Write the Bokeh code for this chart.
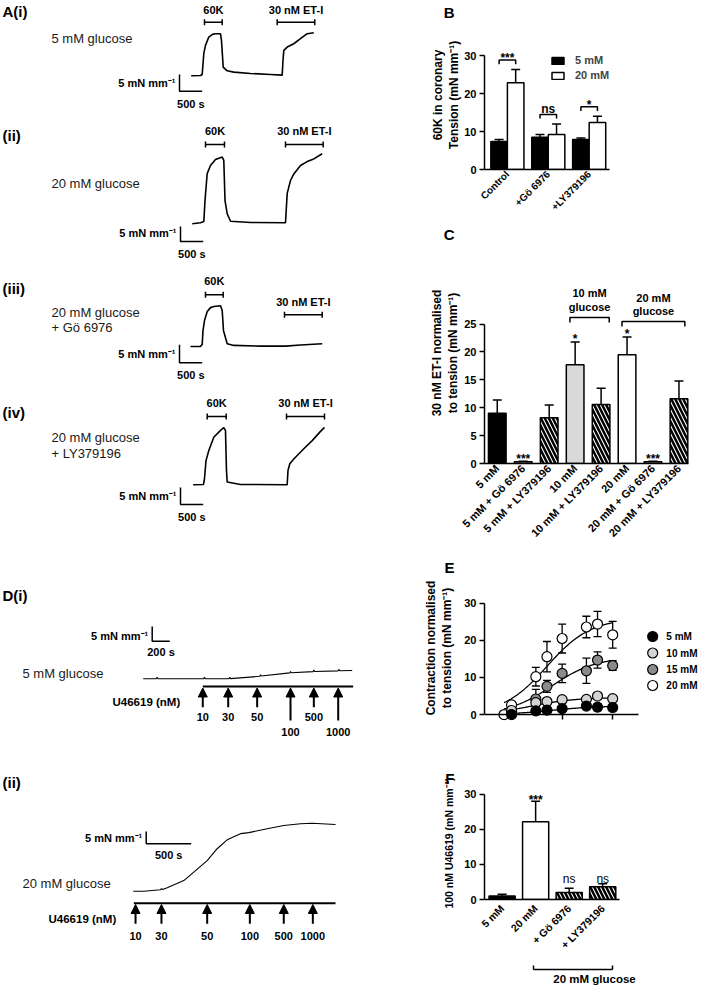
import numpy as np
from bokeh.plotting import figure
from bokeh.layouts import row, column
from bokeh.models import (Range1d, ColumnDataSource, Whisker, TeeHead, Legend, Title,
                          LegendItem, FixedTicker, LinearAxis, Arrow, NormalHead)
from bokeh.core.properties import value
from bokeh.embed import file_html
from bokeh.resources import INLINE

FONT = "Liberation Sans"
LW, RW = 420, 289
RX0 = 420  # left edge of right column (px)

# ======================= DATA =======================
# A: tension traces (time in s, tension in mN mm^-1)
a1_time = [0, 205, 242, 278, 315, 388, 469, 535, 645, 667, 705, 793, 938, 1306, 1747, 2004, 2022,
           2040, 2115, 2260, 2407, 2555, 2700]
a1_tension = [0, 0.1, 0.4, 6.7, 9.1, 11.6, 12.4, 12.6, 12.6, 10.6, 2.6, 1.5, 1.1, 0.7, 0.4, 0.2, 4.6,
              7.6, 8.6, 9.6, 11.1, 12.6, 12.9]
a1_k60 = [293, 683]
a1_et1 = [1894, 2722]

a2_time = [0, 183, 256, 282, 330, 403, 513, 661, 696, 723, 771, 844, 1284, 2055, 2077, 2093, 2165,
           2238, 2385, 2533, 2678, 2863]
a2_tension = [-0.3, 0, 0.4, 7.4, 16.4, 19.1, 21.1, 21.9, 20.8, 7.4, 3.0, 0.5, 0.1, 0, 5.8, 9.8, 14.1,
              16.3, 19.1, 20.4, 21.3, 23.0]
a2_k60 = [293, 711]
a2_et1 = [2055, 2885]

a3_time = [0, 220, 258, 275, 308, 368, 441, 513, 661, 698, 727, 808, 954, 1542, 2093, 2423, 2901]
a3_tension = [0, 0, 0.6, 4.4, 7.2, 9.7, 10.8, 11.1, 11.3, 10.0, 4.4, 0.75, 0.3, 0.1, 0.1, 0.4, 0.75]
a3_k60 = [330, 720]
a3_et1 = [2070, 2901]

a4_time = [0, 227, 249, 282, 344, 454, 601, 674, 711, 733, 749, 1042, 2070, 2088, 2128, 2216, 2436,
           2621, 2789, 2892]
a4_tension = [0, 0.1, 1.9, 7.1, 10.1, 14.0, 16.0, 16.8, 16.0, 4.2, 0.8, 0.1, 0, 4.2, 6.2, 7.6, 10.6,
              13.0, 15.5, 16.9]
a4_k60 = [308, 727]
a4_et1 = [2055, 2892]

a_scale_s, a_scale_mN = 500, 5

# D: U46619 cumulative additions
d_dose_nM = [10, 30, 50, 100, 500, 1000]
d1_time = [0, 150, 159, 168, 688, 697, 706, 975, 984, 993, 1324, 1333, 1342, 1665, 1674, 1683, 1930,
           1939, 1948, 2214, 2223, 2232, 2375]
d1_tension = [0, 0, 0.5, 0, 0, 0.5, 0, 0, 0.5, 0.05, 0.85, 1.4, 0.95, 2.0, 2.5, 2.05, 2.45, 2.95, 2.5,
              2.7, 3.2, 2.72, 2.82]
d1_dose_time = [677, 966, 1295, 1674, 1939, 2216]
d1_drug_span = [677, 2386]
d1_scale_s, d1_scale_mN = 200, 5

d2_time = [0, 118, 303, 314, 325, 378, 562, 673, 822, 933, 1044, 1192, 1284, 1489, 1673, 1859, 1989, 2248]
d2_tension = [0, 0, 0.6, 1.0, 0.7, 1.4, 4.3, 7.7, 12.4, 17.2, 20.8, 23.3, 23.7, 25.3, 26.6, 27.3, 27.5, 27.0]
d2_dose_time = [26, 314, 822, 1296, 1673, 1996]
d2_drug_span = [7, 2248]
d2_scale_s, d2_scale_mN = 500, 5

# B: 60K contraction
b_groups = ["Control", "+Gö 6976", "+LY379196"]
b_5mM = [7.4, 8.5, 7.9]
b_5mM_sem = [0.5, 0.7, 0.4]
b_20mM = [22.8, 9.2, 12.4]
b_20mM_sem = [3.5, 2.8, 1.6]
b_sig = ["***", "ns", "*"]

# C: 30 nM ET-1
c_groups = ["5 mM", "5 mM + Gö 6976", "5 mM + LY379196", "10 mM", "10 mM + LY379196",
            "20 mM", "20 mM + Gö 6976", "20 mM + LY379196"]
c_vals = [9.0, 0.3, 8.2, 17.7, 10.6, 19.5, 0.3, 11.6]
c_sem = [2.4, 0.1, 2.3, 4.1, 2.9, 3.2, 0.1, 3.2]
c_sig = ["", "***", "", "*", "", "*", "***", ""]

# E: U46619 concentration-response (log M)
e_logconc = [-8, -7.52, -7.3, -7, -6.52, -6.3, -6]
e_5mM = [0.0, 1.0, 1.2, 1.6, 2.3, 2.0, 1.9]
e_5mM_sem = [0.3, 0.4, 0.5, 0.6, 0.7, 0.9, 0.8]
e_10mM = [1.1, 3.2, 3.5, 4.0, 4.1, 5.0, 4.3]
e_10mM_sem = [0.4, 1.0, 0.8, 0.7, 0.6, 0.8, 0.6]
e_15mM = [0.8, 4.2, 7.6, 11.1, 11.8, 14.7, 13.2]
e_15mM_sem = [0.5, 2.6, 1.6, 2.5, 3.4, 2.2, 1.3]
e_20mM_logconc = [-8.15, -8, -7.52, -7.3, -7, -6.52, -6.3, -6]
e_20mM = [0.0, 2.6, 10.2, 15.6, 20.5, 23.6, 24.4, 21.5]
e_20mM_sem = [0.3, 0.5, 2.5, 4.1, 3.9, 2.9, 3.4, 3.6]
e_labels = ["5 mM", "10 mM", "15 mM", "20 mM"]
e_fit_top = [2.3, 4.6, 15.5, 26.0]
e_fit_logec50 = [-7.2, -7.6, -7.2, -7.3]
e_fit_hill = [1.0, 1.0, 1.0, 1.0]
e_fit_from = -8.15

# F: 100 nM U46619
f_groups = ["5 mM", "20 mM", "+ Gö 6976", "+ LY379196"]
f_vals = [1.0, 22.1, 2.0, 3.6]
f_sem = [0.5, 5.9, 1.2, 0.9]
f_sig = ["", "***", "ns", "ns"]

SUP = "mm\u207b\u00b9"


# ======================= HELPERS =======================
def trace_panel(h, ytop, x0, sx, base, sy):
    p = figure(width=LW, height=h, x_range=Range1d(-x0 / sx, (LW - x0) / sx),
               y_range=Range1d((base - ytop - h) / sy, (base - ytop) / sy),
               output_backend="svg", toolbar_location=None, x_axis_location=None,
               y_axis_location=None, min_border=0, outline_line_color=None,
               background_fill_color="white", border_fill_color="white")
    p.xgrid.visible = False
    p.ygrid.visible = False
    return p, (lambda px: (px - x0) / sx), (lambda py: (base - py) / sy)


def gtext(p, x, y, s, size="11px", bold=True, align="center", baseline="middle", color="black"):
    p.text(x=[x], y=[y], text=[s], text_font=value(FONT), text_font_size=size,
           text_font_style="bold" if bold else "normal", text_align=align,
           text_baseline=baseline, text_color=color)


def app_bar(p, span, y, half):
    on, off = span
    p.segment(x0=[on, on, off], y0=[y, y - half, y - half], x1=[off, on, off],
              y1=[y, y + half, y + half], line_color="black", line_width=1.5)


def scale_bar(p, cx, cy, slen, tlen):
    p.line(x=[cx, cx, cx + slen], y=[cy + tlen, cy, cy], line_color="black", line_width=1.5)


def a_panel(h, ytop, x0, base, sy, t, T, k60, et1, tag, cond, k60_y, et1_y, k60_ty, et1_ty,
            scale_xy, tag_y):
    p, X, Y = trace_panel(h, ytop, x0, 0.0454, base, sy)
    p.line(t, T, line_color="black", line_width=1.6)
    half = 3 / sy
    app_bar(p, k60, Y(k60_y), half)
    app_bar(p, et1, Y(et1_y), half)
    gtext(p, (k60[0] + k60[1]) / 2, Y(k60_ty), "60K")
    gtext(p, (et1[0] + et1[1]) / 2, Y(et1_ty), "30 nM ET-I")
    gtext(p, X(2), Y(tag_y), tag, "15px", align="left")
    for txt, cy in cond:
        gtext(p, X(51), Y(cy), txt, "13px", bold=False, align="left", color="#1a1a1a")
    sx_, sy_ = scale_xy
    scale_bar(p, X(sx_), Y(sy_), a_scale_s, a_scale_mN)
    gtext(p, X(sx_ - 4), Y(sy_ - 8.5), "5 mN " + SUP, align="right")
    gtext(p, X(sx_) + a_scale_s / 2, Y(sy_ + 12.5), "500 s")
    return p


def chart(h, ref_top, left, top, bottom, x_start, ppx, y_start, ppy, right=5):
    fw = RW - left - right
    fh = h - top - bottom
    p = figure(width=RW, height=h, x_range=Range1d(x_start, x_start + fw / ppx),
               y_range=Range1d(y_start, y_start + fh / ppy), output_backend="svg",
               toolbar_location=None, min_border_left=left, min_border_right=right,
               min_border_top=top, min_border_bottom=bottom, outline_line_color=None,
               background_fill_color="white", border_fill_color="white")
    p.xgrid.visible = False
    p.ygrid.visible = False
    for ax in p.axis:
        ax.axis_line_width = 1.5
        ax.axis_line_color = "black"
        ax.major_tick_line_width = 1.5
        ax.major_tick_line_color = "black"
        ax.major_tick_out = 5
        ax.major_tick_in = 0
        ax.minor_tick_line_color = None
        ax.major_label_text_font = FONT
        ax.major_label_text_font_style = "bold"
        ax.major_label_text_font_size = "11px"
        ax.major_label_text_color = "black"
        ax.major_label_standoff = 3
    X = lambda rx: x_start + (rx - RX0 - left) / ppx
    Y = lambda ry: y_start + (ref_top + h - bottom - ry) / ppy
    return p, X, Y


def letter(p, s, offset, standoff=0):
    p.title = Title(text=s, align="right", offset=offset, standoff=standoff, text_font=FONT,
                    text_font_size="15px", text_font_style="bold", text_color="black")


def ytitles(p, lines, standoff, bounds, size="12px"):
    main = p.yaxis[0]
    main.axis_label = lines[-1]
    main.axis_label_standoff = standoff
    main.axis_label_text_font = FONT
    main.axis_label_text_font_style = "bold"
    main.axis_label_text_font_size = size
    main.axis_label_text_color = "black"
    if len(lines) == 2:
        extra = LinearAxis(axis_label=lines[0], ticker=FixedTicker(ticks=[]), bounds=bounds,
                           axis_line_color=None, major_tick_line_color=None,
                           minor_tick_line_color=None, major_tick_out=0, major_tick_in=0,
                           major_label_standoff=0, axis_label_standoff=0,
                           axis_label_text_font=FONT, axis_label_text_font_style="bold",
                           axis_label_text_font_size=size, axis_label_text_color="black")
        p.add_layout(extra, "left")


def cat_xaxis(p, ticks, names, bounds, size):
    ax = p.xaxis[0]
    ax.ticker = FixedTicker(ticks=[int(v) for v in ticks])
    ax.major_label_overrides = {int(i): g for i, g in zip(ticks, names)}
    ax.major_label_orientation = np.pi / 4
    ax.major_tick_line_color = None
    ax.major_tick_out = 0
    ax.major_label_text_font_size = size
    ax.bounds = bounds
    return ax


def whisk(p, src, width=9, lw=1.5, lower="top", both=False, level=None):
    kw = dict(source=src, base="x", upper="upper", lower=lower, line_width=lw, line_color="black",
              upper_head=TeeHead(size=width, line_width=lw, line_color="black"))
    kw["lower_head"] = TeeHead(size=width, line_width=lw, line_color="black") if both else None
    w = Whisker(**kw)
    if level:
        w.level = level
    p.add_layout(w)


# ======================= LEFT COLUMN =======================
pA1 = a_panel(125, 0, 190.7, 75.3, 3.34, a1_time, a1_tension, a1_k60, a1_et1, "A(i)",
              [("5 mM glucose", 38)], 21.7, 21.7, 9, 9, (179, 90.7), 11)
pA2 = a_panel(143, 125, 191.7, 222.3, 3.0, a2_time, a2_tension, a2_k60, a2_et1, "(ii)",
              [("20 mM glucose", 183)], 144, 144, 130, 130, (180, 241), 135)
pA3 = a_panel(124, 268, 190, 346, 3.6, a3_time, a3_tension, a3_k60, a3_et1, "(iii)",
              [("20 mM glucose", 311.7), ("+ Gö 6976", 326.7)], 294.3, 314.3, 280, 301.7,
              (179, 362.3), 288)
pA4 = a_panel(168, 392, 192.7, 484.3, 3.4, a4_time, a4_tension, a4_k60, a4_et1, "(iv)",
              [("20 mM glucose", 437.3), ("+ LY379196", 453.3)], 416, 416, 402.7, 402.7,
              (180, 504), 411.7)


def d_panel(h, ytop, x0, sx, base, sy, t, T, doses, span, tag, tag_y, cond_y, scale_xy, scale_s,
            line_y, tip_y, bot_short, bot_long, lab_short, lab_long, long_idx, u_xy, lw):
    p, X, Y = trace_panel(h, ytop, x0, sx, base, sy)
    p.line(t, T, line_color="black", line_width=lw)
    gtext(p, X(2), Y(tag_y), tag, "15px", align="left")
    gtext(p, X(22), Y(cond_y), "5 mM glucose" if tag == "D(i)" else "20 mM glucose", "13px",
          bold=False, align="left", color="#1a1a1a")
    cx, cy = scale_xy
    scale_bar(p, X(cx), Y(cy), scale_s, 5)
    gtext(p, X(cx - 4), Y(cy - 5.5), "5 mN " + SUP, align="right")
    gtext(p, X(cx) + scale_s / 2, Y(cy + 11), "%d s" % scale_s)
    p.line(x=span, y=[Y(line_y)] * 2, line_color="black", line_width=2)
    y0 = [Y(bot_long) if i in long_idx else Y(bot_short) for i in range(len(doses))]
    src = ColumnDataSource(dict(x=doses, y0=y0, y1=[Y(tip_y)] * len(doses)))
    p.add_layout(Arrow(end=NormalHead(size=9, fill_color="black", line_color="black"),
                       x_start="x", y_start="y0", x_end="x", y_end="y1", source=src,
                       line_width=2, line_color="black"))
    for i, (tt, d) in enumerate(zip(doses, d_dose_nM)):
        gtext(p, tt, Y(lab_long if i in long_idx else lab_short), str(d))
    gtext(p, X(u_xy[0]), Y(u_xy[1]), "U46619 (nM)", "11.5px", align="left")
    return p


pD1 = d_panel(200, 560, 142.7, 0.088, 678.3, 2.94, d1_time, d1_tension, d1_dose_time,
              d1_drug_span, "D(i)", 595, 672.7, (151.7, 640.7), d1_scale_s, 686, 687.5, 706.7, 720,
              716, 731.7, (3, 5), (112, 701.7), 1.1)
pD2 = d_panel(228, 760, 132.7, 0.09, 890.7, 2.47, d2_time, d2_tension, d2_dose_time,
              d2_drug_span, "(ii)", 782, 882.7, (145.7, 843.3), d2_scale_s, 902.7, 904, 923.3,
              923.3, 935, 935, (), (48, 918.3), 1.1)

# ======================= B =======================
pB, XB, YB = chart(222, 0, 58, 20, 53, -0.56, 42, 0, 3.8)
xb = np.arange(len(b_groups))
off, bw = 0.2024, 17 / 42
srcB5 = ColumnDataSource(dict(x=xb - off, top=b_5mM, upper=np.add(b_5mM, b_5mM_sem)))
srcB20 = ColumnDataSource(dict(x=xb + off, top=b_20mM, upper=np.add(b_20mM, b_20mM_sem)))
rB5 = pB.vbar(x="x", top="top", width=bw, source=srcB5, fill_color="black", line_color="black",
              line_width=1.5)
rB20 = pB.vbar(x="x", top="top", width=bw, source=srcB20, fill_color="white", line_color="black",
               line_width=1.5)
whisk(pB, srcB5)
whisk(pB, srcB20)
for i, sig in enumerate(b_sig):
    yb = max(b_5mM[i] + b_5mM_sem[i], b_20mM[i] + b_20mM_sem[i]) + 2.5
    pB.line([i - off, i - off, i + off, i + off], [yb - 1.1, yb, yb, yb - 1.1], line_color="black",
            line_width=1.5)
    gtext(pB, i, yb + (1.4 if sig == "ns" else 0.6), sig, "12px", baseline="alphabetic")
pB.yaxis.ticker = FixedTicker(ticks=[0, 10, 20, 30])
pB.yaxis.bounds = (0, 30)
cat_xaxis(pB, xb, b_groups, (-0.56, XB(606)), "10px")
legB = Legend(items=[LegendItem(label="5 mM", renderers=[rB5]),
                     LegendItem(label="20 mM", renderers=[rB20])],
              location=(66, 88), glyph_width=15, glyph_height=9, label_height=9, spacing=3,
              padding=0, margin=0, border_line_color=None, background_fill_alpha=0,
              label_text_font=FONT, label_text_font_style="bold", label_text_font_size="11px",
              label_standoff=10)
pB.add_layout(legB)
ytitles(pB, ["60K in coronary", "Tension (mN " + SUP + ")"], 0, (0, 30))
letter(pB, "B", 250)

# ======================= C =======================
pC, XC, YC = chart(333, 222, 60, 20, 92, (480 - 493) / 26.43, 26.43, 0, 5.576)
xc = np.arange(len(c_groups))
c_fill = ["black", "white", "white", "#d9d9d9", "white", "white", "white", "white"]
c_hatch = [" ", " ", "\\", " ", "\\", " ", " ", "\\"]
srcC = ColumnDataSource(dict(x=xc, top=c_vals, upper=np.add(c_vals, c_sem), fill=c_fill,
                             hatch=c_hatch))
pC.vbar(x="x", top="top", width=0.68, source=srcC, fill_color="fill", line_color="black",
        line_width=1.5, hatch_pattern="hatch", hatch_color="black", hatch_weight=2.5,
        hatch_scale=8)
whisk(pC, srcC)
for i, sig in enumerate(c_sig):
    if sig:
        gtext(pC, i, c_vals[i] + c_sem[i] + 0.45, sig, "12px", baseline="alphabetic")
# group brackets above bars
for (xa, xz, yl, t1, t2, g) in [(XC(567), XC(607), YC(317), YC(292.7), YC(306), c_groups[3]),
                                (XC(620), XC(684), YC(321), YC(297), YC(310), c_groups[5])]:
    pC.line([xa, xa, xz, xz], [yl - 0.9, yl, yl, yl - 0.9], line_color="black", line_width=1.5)
    gtext(pC, (xa + xz) / 2, t1, g)
    gtext(pC, (xa + xz) / 2, t2, "glucose")
pC.yaxis.ticker = FixedTicker(ticks=[0, 5, 10, 15, 20, 25])
pC.yaxis.bounds = (0, 25)
cat_xaxis(pC, xc, c_groups, (XC(480), XC(688)), "11px")
ytitles(pC, ["30 nM ET-I normalised", "to tension (mN " + SUP + ")"], 1, (0, 25))
letter(pC, "C", 250)

# ======================= E =======================
pE, XE, YE = chart(205, 555, 59, 20, 40, -8 + (479 - 506.7) / 51.7, 51.7, -1.6, 3.71)
e_series = [(e_logconc, e_5mM, e_5mM_sem, "black"),
            (e_logconc, e_10mM, e_10mM_sem, "#d4d4d4"),
            (e_logconc, e_15mM, e_15mM_sem, "#8a8a8a"),
            (e_20mM_logconc, e_20mM, e_20mM_sem, "white")]
xfit = np.linspace(e_fit_from, max(e_logconc), 120)
for k in [3, 2, 1, 0]:
    yfit = e_fit_top[k] / (1 + 10 ** ((e_fit_logec50[k] - xfit) * e_fit_hill[k]))
    pE.line(xfit, yfit, line_color="black", line_width=1.3)
for k in [3, 2, 1, 0]:
    xs, vals, sem, col = e_series[k]
    src = ColumnDataSource(dict(x=xs, y=vals, upper=np.add(vals, sem),
                                lower=np.subtract(vals, sem)))
    whisk(pE, src, width=8, lw=1.3, lower="lower", both=True, level="underlay")
    pE.scatter("x", "y", source=src, marker="circle", size=10, fill_color=col,
               line_color="black", line_width=1.2)
# key (legend) at the right of the curves
key_y = [YE(636), YE(652.5), YE(669), YE(685)]
pE.scatter(x=[XE(651)] * 4, y=key_y, marker="circle", size=10,
           fill_color=[s[3] for s in e_series], line_color="black", line_width=1.2)
pE.text(x=[XE(665)] * 4, y=key_y, text=e_labels, text_font=value(FONT), text_font_size="10px",
        text_font_style="bold", text_align="left", text_baseline="middle", text_color="black")
pE.xaxis.fixed_location = 0
pE.xaxis.ticker = FixedTicker(ticks=[-8, -7, -6])
pE.xaxis.bounds = (XE(479), XE(636.7))
pE.xaxis.axis_label = "[U46619] (M)"
pE.xaxis.axis_label_text_font = FONT
pE.xaxis.axis_label_text_font_style = "bold"
pE.xaxis.axis_label_text_font_size = "11px"
pE.xaxis.axis_label_standoff = 3
pE.yaxis.ticker = FixedTicker(ticks=[0, 10, 20, 30])
pE.yaxis.bounds = (0, 30)
ytitles(pE, ["Contraction normalised", "to tension (mN " + SUP + ")"], 7, (0, 30))
letter(pE, "E", 250)

# ======================= F =======================
pF, XF, YF = chart(228, 760, 59, 26, 89, (479 - 497) / 34.3, 34.3, 0, 3.513)
xf = np.arange(len(f_groups))
f_fill = ["black", "white", "white", "white"]
f_hatch = [" ", " ", "\\", "\\"]
srcF = ColumnDataSource(dict(x=xf, top=f_vals, upper=np.add(f_vals, f_sem), fill=f_fill,
                             hatch=f_hatch))
pF.vbar(x="x", top="top", width=0.78, source=srcF, fill_color="fill", line_color="black",
        line_width=1.5, hatch_pattern="hatch", hatch_color="black", hatch_weight=2.5,
        hatch_scale=8)
whisk(pF, srcF)
ns_y = max(f_vals[2] + f_sem[2], f_vals[3] + f_sem[3]) + 1.2
for i, sig in enumerate(f_sig):
    if sig == "ns":
        gtext(pF, i, ns_y, sig, "12px", bold=False, baseline="alphabetic")
    elif sig:
        gtext(pF, i, f_vals[i] + f_sem[i] + 0.45, sig, "12px", baseline="alphabetic")
pF.yaxis.ticker = FixedTicker(ticks=[0, 10, 20, 30])
pF.yaxis.bounds = (0, 30)
ax1 = cat_xaxis(pF, xf, f_groups, (XF(479), XF(616.7)), "10.5px")
ax1.major_label_standoff = 7
ax1.axis_label = " "
ax1.axis_label_text_font_size = "8px"
ax1.axis_label_standoff = 0
br0, br1 = XF(528.7), XF(610)
ax2 = LinearAxis(bounds=(br0, br1), ticker=FixedTicker(ticks=[br0, br1]), major_tick_in=4,
                 major_tick_out=0, axis_label="20 mM glucose", axis_label_text_font=FONT,
                 axis_label_text_font_style="bold", axis_label_text_font_size="11.5px",
                 axis_label_text_color="black", axis_label_standoff=3,
                 major_label_text_font_size="1px", major_label_text_alpha=0,
                 major_label_standoff=0, axis_line_width=1.5, major_tick_line_width=1.5,
                 minor_tick_line_color=None)
pF.add_layout(ax2, "below")
ytitles(pF, ["100 nM U46619 (mN " + SUP + ")"], 6, (0, 30), size="10.5px")
letter(pF, "F", 250)

layout = row(column(pA1, pA2, pA3, pA4, pD1, pD2), column(pB, pC, pE, pF))
open("out.html", "w").write(file_html(layout, INLINE))
